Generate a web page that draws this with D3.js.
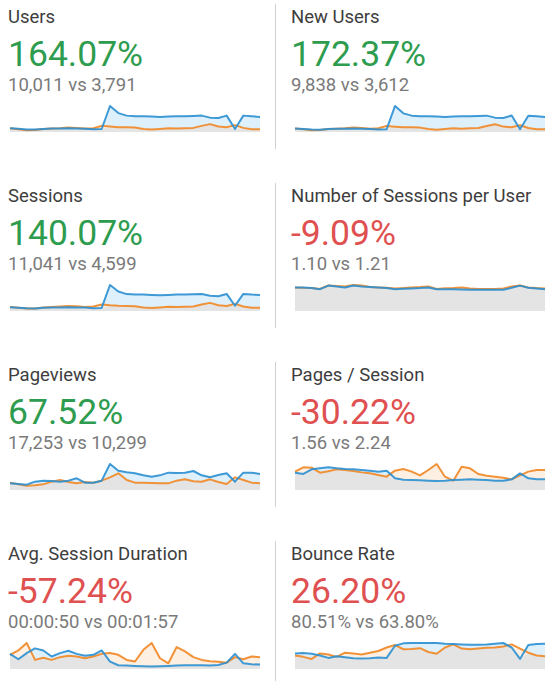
<!DOCTYPE html>
<html><head><meta charset="utf-8">
<script src="https://cdn.jsdelivr.net/npm/d3@7"></script>
<style>
body{margin:0;background:#fff;}
svg{display:block;font-family:Roboto,"Noto Sans",sans-serif;}
</style>
</head><body>
<svg id="chart" width="558" height="681"></svg>
<script>
const days = [1,2,3,4,5,6,7,8,9,10,11,12,13,14,15,16,17,18,19,20,21,22,23,24,25,26,27,28,29,30,31];

const titles = ["Users","New Users","Sessions","Number of Sessions per User","Pageviews","Pages / Session","Avg. Session Duration","Bounce Rate"];
const changes = [164.07, 172.37, 140.07, -9.09, 67.52, -30.22, -57.24, 26.20];
const changeLabels = ["164.07%","172.37%","140.07%","-9.09%","67.52%","-30.22%","-57.24%","26.20%"];
const changeGood = [true, true, true, false, true, false, false, false];
const summaries = ["10,011 vs 3,791","9,838 vs 3,612","11,041 vs 4,599","1.10 vs 1.21","17,253 vs 10,299","1.56 vs 2.24","00:00:50 vs 00:01:57","80.51% vs 63.80%"];

const usersCur = [110,95,75,72,92,100,102,108,100,95,78,88,770,560,485,466,466,456,446,456,466,466,476,485,425,415,485,88,485,466,446];
const usersPrev = [111,81,51,61,91,101,111,132,122,101,111,182,162,142,142,132,91,71,91,111,101,111,122,182,233,162,142,203,122,81,81];

const newUsersCur = [105,85,70,68,88,95,98,104,96,90,74,84,760,545,478,462,458,450,440,452,460,462,470,478,420,410,480,80,478,460,440];
const newUsersPrev = [105,78,50,58,88,98,108,128,118,98,108,178,156,138,138,128,88,68,88,108,98,108,118,178,225,158,138,196,118,78,78];

const sessionsCur = [115,100,85,80,100,108,110,118,110,104,88,96,800,600,520,505,505,495,485,495,505,505,515,525,470,455,525,160,525,505,495];
const sessionsPrev = [125,100,75,80,110,120,135,155,145,125,140,200,175,160,155,145,110,95,110,130,120,130,140,200,250,175,155,220,140,100,100];

const sessPerUserCur = [1.18,1.18,1.15,1.09,1.27,1.22,1.18,1.27,1.22,1.20,1.18,1.15,1.09,1.11,1.13,1.15,1.18,1.09,1.09,1.09,1.08,1.06,1.06,1.06,1.06,1.06,1.16,1.27,1.16,1.13,1.09];
const sessPerUserPrev = [1.18,1.16,1.15,1.10,1.28,1.25,1.22,1.30,1.27,1.20,1.18,1.16,1.13,1.15,1.18,1.20,1.23,1.10,1.14,1.15,1.17,1.12,1.10,1.10,1.10,1.13,1.22,1.27,1.18,1.15,1.13];

const pageviewsCur = [277,249,222,346,388,374,346,388,485,305,305,388,1080,803,734,693,609,554,609,720,706,720,789,609,526,623,693,346,720,720,665];
const pageviewsPrev = [305,235,180,194,235,346,416,332,277,332,305,388,526,693,416,305,305,291,277,277,388,443,360,346,443,332,249,526,416,305,277];

const pagesPerSessCur = [2.13,1.97,2.54,2.67,2.79,2.67,2.58,2.54,2.46,2.38,2.26,2.38,1.44,1.27,1.23,1.19,1.15,1.11,1.15,1.23,1.27,1.31,1.27,1.23,1.15,1.15,1.31,2.05,1.44,1.31,1.31];
const pagesPerSessPrev = [2.26,2.79,2.75,2.13,2.30,2.54,2.46,2.34,2.17,2.05,1.85,1.64,2.38,2.58,2.26,1.80,2.46,3.20,1.64,1.15,2.87,2.67,1.97,1.76,1.64,1.52,1.31,1.80,2.26,2.46,2.46];

const durationCur = [138,89,145,188,169,114,145,166,138,120,129,169,68,34,31,28,25,22,25,28,31,34,34,34,31,37,58,138,52,43,40];
const durationPrev = [129,169,237,83,102,83,108,120,114,98,114,138,145,129,83,68,175,237,98,52,200,160,108,83,71,65,58,108,89,114,108];

const bounceCur = [56.5,57.8,55.3,49.0,40.2,46.5,42.7,38.9,37.7,38.9,41.4,40.2,84.2,92.9,94.2,94.2,94.2,94.2,91.7,90.4,89.2,87.9,87.9,89.2,91.7,94.2,77.9,36.4,86.7,90.4,91.7];
const bouncePrev = [49.0,44.0,36.4,56.5,52.8,44.0,59.0,56.5,52.8,59.0,65.3,77.9,86.7,71.6,72.8,75.4,61.5,55.3,77.9,89.2,74.1,71.6,74.1,76.6,77.9,81.6,89.2,74.1,59.0,49.0,46.5];

const currentSeries = [usersCur,newUsersCur,sessionsCur,sessPerUserCur,pageviewsCur,pagesPerSessCur,durationCur,bounceCur];
const previousSeries = [usersPrev,newUsersPrev,sessionsPrev,sessPerUserPrev,pageviewsPrev,pagesPerSessPrev,durationPrev,bouncePrev];

const svg = d3.select("#chart");
const rowStep = 179;
const blue = "#2a8fd2", orange = "#f08c2e";

titles.forEach((title, i) => {
  const col = i % 2, row = Math.floor(i / 2);
  const rowY = row * rowStep;
  const tx = col ? 291 : 8;
  const g = svg.append("g");

  g.append("text").attr("x", tx).attr("y", rowY + 23)
    .attr("font-size", 18.5).attr("fill", "#3d3d3d").text(title);
  g.append("text").attr("x", tx).attr("y", rowY + 66)
    .attr("font-size", 35.5).attr("fill", changeGood[i] ? "#2e9c4f" : "#df5050")
    .text(changeLabels[i]);
  g.append("text").attr("x", tx).attr("y", rowY + 91)
    .attr("font-size", 18.5).attr("fill", "#7a7a7a").text(summaries[i]);

  const cur = currentSeries[i], prev = previousSeries[i];
  const x = d3.scalePoint().domain(days).range(col ? [295, 545] : [10, 260]);
  const y = d3.scaleLinear().domain([0, d3.max(cur.concat(prev))]).range([rowY + 132, rowY + 106]);

  const area = d3.area().x((d, k) => x(days[k])).y0(y(0)).y1(d => y(d));
  const line = d3.line().x((d, k) => x(days[k])).y(d => y(d));
  const both = cur.map((v, k) => Math.min(v, prev[k]));

  g.append("path").attr("d", area(cur)).attr("fill", "#def0fb");
  g.append("path").attr("d", area(prev)).attr("fill", "#fdf0e2");
  g.append("path").attr("d", area(both)).attr("fill", "#e4e4e4");
  g.append("path").attr("d", line(prev)).attr("fill", "none")
    .attr("stroke", orange).attr("stroke-width", 2).attr("stroke-linejoin", "round").attr("stroke-opacity", 0.95);
  g.append("path").attr("d", line(cur)).attr("fill", "none")
    .attr("stroke", blue).attr("stroke-width", 2).attr("stroke-linejoin", "round").attr("stroke-opacity", 0.9);

  if (col === 0) {
    g.append("line").attr("x1", 275.5).attr("x2", 275.5)
      .attr("y1", rowY + 4).attr("y2", rowY + 149)
      .attr("stroke", "#cfcfcf").attr("stroke-width", 1);
  }
});
</script>
</body></html>
